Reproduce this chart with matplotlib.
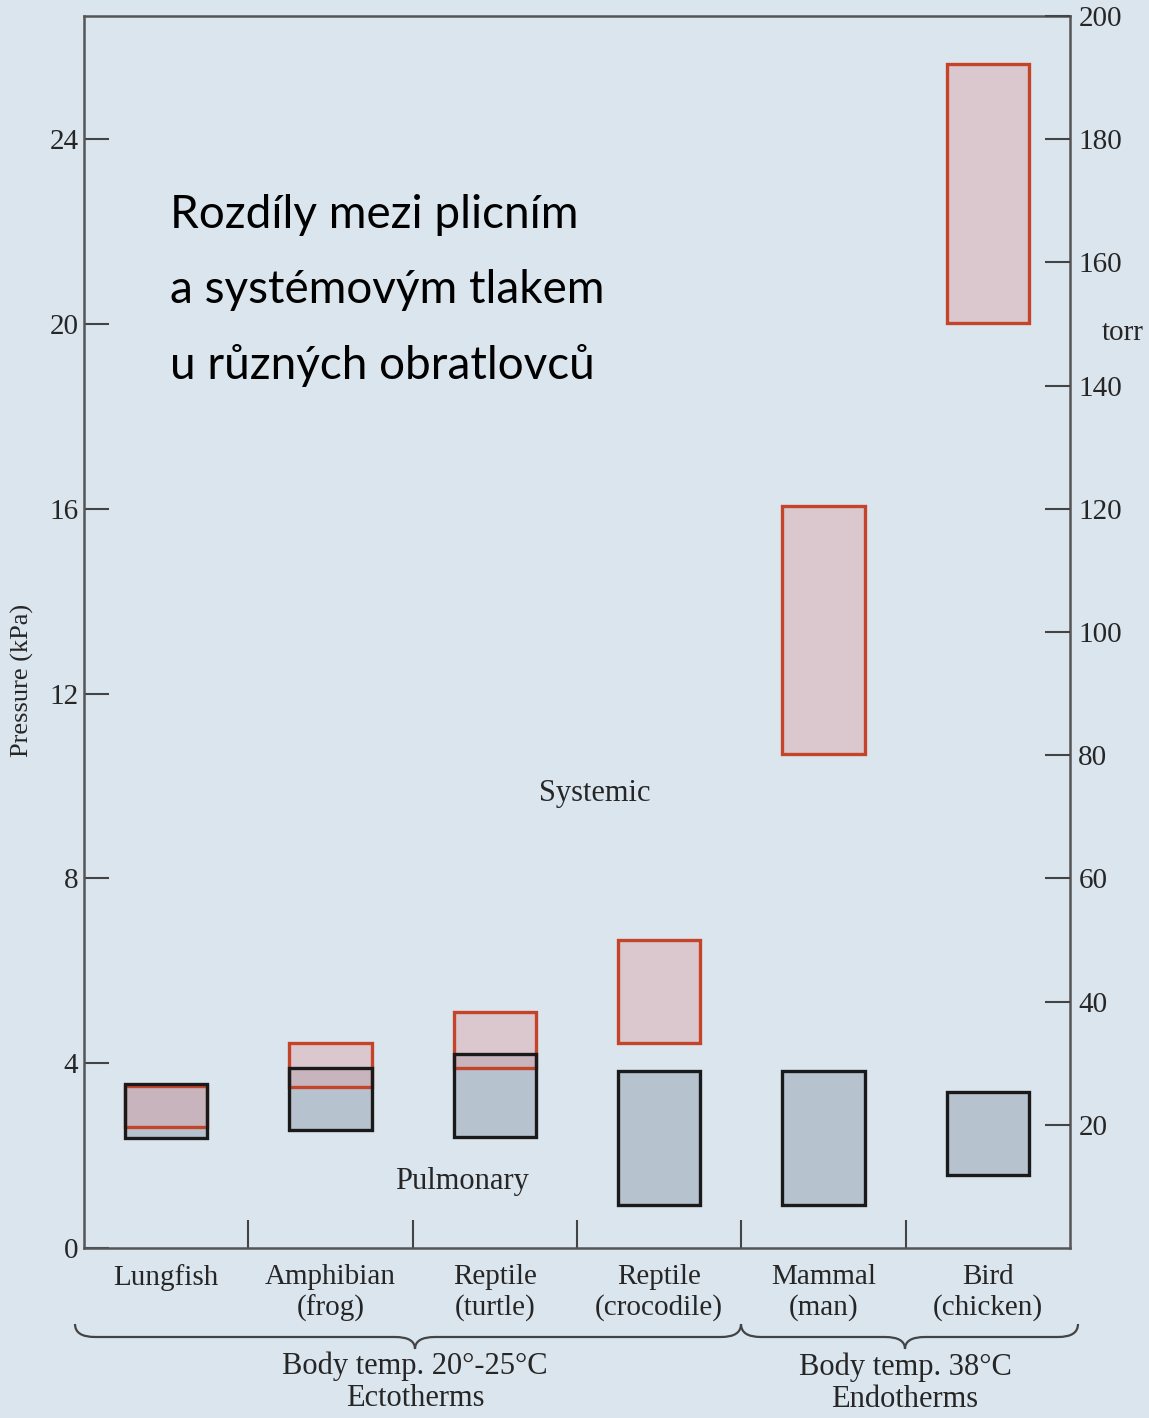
import numpy as np
import matplotlib
import matplotlib.pyplot as plt
from matplotlib.path import Path
from matplotlib.patches import PathPatch

matplotlib.rcParams['font.family'] = ['Liberation Serif', 'DejaVu Serif']

# data (kPa)
animals = ["Lungfish", "Amphibian\n(frog)", "Reptile\n(turtle)",
           "Reptile\n(crocodile)", "Mammal\n(man)", "Bird\n(chicken)"]
pulm_low = [2.38, 2.56, 2.40, 0.93, 0.93, 1.58]
pulm_high = [3.55, 3.90, 4.20, 3.83, 3.83, 3.38]
syst_low = [2.62, 3.49, 3.90, 4.44, 10.70, 20.01]
syst_high = [3.51, 4.44, 5.11, 6.67, 16.05, 25.62]
kpa_ticks = [0, 4, 8, 12, 16, 20, 24]
torr_ticks = [20, 40, 60, 80, 100, 120, 140, 160, 180]
TORR_PER_KPA = 7.50062

bg = '#dbe5ee'
txt = '#262626'
W, H = 1149, 1418
fig = plt.figure(figsize=(W/100, H/100), dpi=100, facecolor=bg)
ax = fig.add_axes([84/W, 1 - 1248/H, (1070-84)/W, (1248-16)/H])
ax.set_facecolor(bg)

x = np.arange(len(animals))
ph = np.subtract(pulm_high, pulm_low)
# pulmonary fill, systemic box, then pulmonary outline on top
ax.bar(x, ph, bottom=pulm_low, width=0.5, color='#b7c2cf', linewidth=0, zorder=2)
ax.bar(x, np.subtract(syst_high, syst_low), bottom=syst_low, width=0.5,
       color=(0.86, 0.64, 0.66, 0.45), edgecolor='#c4442a', linewidth=2.4, zorder=3)
ax.bar(x, ph, bottom=pulm_low, width=0.5, fill=False,
       edgecolor='#1a1a1a', linewidth=2.4, zorder=4)

ax.set_xlim(-0.5, len(animals) - 0.5)
ax.set_ylim(0, 200 / TORR_PER_KPA)
ax.set_yticks(kpa_ticks)
ax.tick_params(axis='y', direction='in', length=18, width=1.5, labelsize=21, pad=4,
               colors='#444444', labelcolor=txt)
ax.set_xticks(np.arange(len(animals) - 1) + 0.5)
ax.set_xticklabels([])
ax.tick_params(axis='x', direction='in', length=20, width=1.5, colors='#444444')
for s in ax.spines.values():
    s.set_color('#555555')
    s.set_linewidth(1.8)

for xi, lab in zip(x, animals):
    ax.text(xi, -0.35, lab, ha='center', va='top', fontsize=21, color=txt,
            linespacing=1.2, transform=ax.transData)

fig.text(22/W, 1 - 680/H, "Pressure (kPa)", fontsize=19, color=txt,
         rotation=90, ha='center', va='center')

# torr axis
ax2 = ax.twinx()
ax2.set_ylim(0, 200)
ax2.set_yticks(torr_ticks + [200])
ax2.set_yticklabels([str(t) for t in torr_ticks] + ['200'])
ax2.tick_params(axis='y', direction='in', length=18, width=1.5, labelsize=21, pad=6,
                colors='#444444', labelcolor=txt)
for s in ax2.spines.values():
    s.set_visible(False)
fig.text(1123/W, 1 - 333/H, "torr", fontsize=21, color=txt, ha='center', va='center')

fig.text(595/W, 1 - 793/H, "Systemic", fontsize=22, color=txt, ha='center', va='center')
fig.text(462/W, 1 - 1181/H, "Pulmonary", fontsize=22, color=txt, ha='center', va='center')

# braces under the categories
def brace(x0, x1, xm, ytop, ybot, ytip):
    pts = [(x0, ytop), (x0, ybot), (x0 + 20, ybot), (xm - 20, ybot),
           (xm, ybot), (xm, ytip), (xm, ybot), (xm + 20, ybot),
           (x1 - 20, ybot), (x1, ybot), (x1, ytop)]
    codes = [Path.MOVETO, Path.CURVE3, Path.CURVE3, Path.LINETO,
             Path.CURVE3, Path.CURVE3, Path.CURVE3, Path.CURVE3,
             Path.LINETO, Path.CURVE3, Path.CURVE3]
    verts = [(px / W, 1 - py / H) for px, py in pts]
    fig.patches.append(PathPatch(Path(verts, codes), transform=fig.transFigure,
                                 fill=False, lw=1.6, edgecolor='#444444'))

brace(75, 741, 415, 1324, 1337, 1349)
brace(741, 1078, 905, 1324, 1337, 1349)

fig.text(415/W, 1 - 1382/H, "Body temp. 20°-25°C\nEctotherms", fontsize=22,
         color=txt, ha='center', va='center', linespacing=1.15)
fig.text(905/W, 1 - 1383/H, "Body temp. 38°C\nEndotherms", fontsize=22,
         color=txt, ha='center', va='center', linespacing=1.15)

# overlay title
for i, line in enumerate(["Rozdíly mezi plicním", "a systémovým tlakem", "u různých obratlovců"]):
    fig.text(170/W, 1 - (215 + 75*i)/H, line, fontsize=33, family='Lato',
             color='black', ha='left', va='center')

fig.savefig('out.png', dpi=100, facecolor=bg)
